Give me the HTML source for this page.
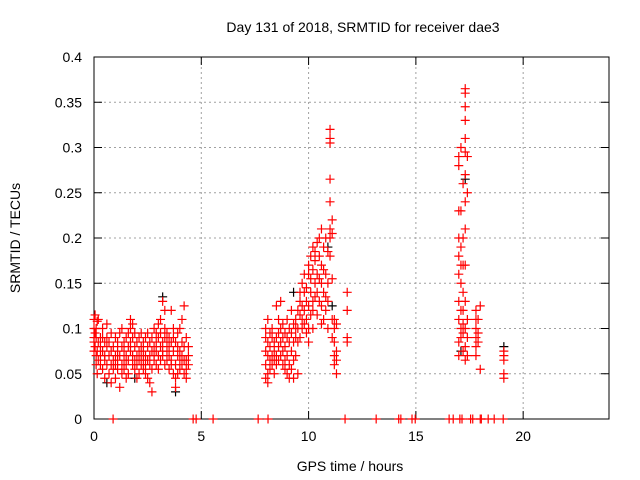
<!DOCTYPE html>
<html><head><meta charset="utf-8"><style>
html,body{margin:0;padding:0;background:#fff}
svg{display:block;font-family:"Liberation Sans",sans-serif}
</style></head><body>
<svg id="chart" width="640" height="480">
<rect width="640" height="480" fill="#fff"/>
<g id="grid"></g>
<g id="axes"></g>
<g id="black"></g>
<g id="red"></g>
<text x="363" y="32" font-size="14" text-anchor="middle">Day 131 of 2018, SRMTID for receiver dae3</text>
<text x="350" y="471" font-size="14" text-anchor="middle">GPS time / hours</text>
<text transform="translate(20,238) rotate(-90)" font-size="14" text-anchor="middle">SRMTID / TECUs</text>
</svg>
<script>
const xTicks=[0,5,10,15,20];
const yTicks=[0,0.05,0.1,0.15,0.2,0.25,0.3,0.35,0.4];
const yTickLabels=["0","0.05","0.1","0.15","0.2","0.25","0.3","0.35","0.4"];
const zeroTimes=[0.89,4.62,4.76,5.55,7.65,8.11,11.7,13.15,14.2,14.3,14.82,14.97,16.55,16.74,17.05,17.15,17.55,17.65,18.0,18.05,18.37,18.65,19.07];
const blackPoints=[[3.2,0.135],[1.9,0.045],[9.3,0.14],[10.9,0.19],[17.3,0.265],[17.1,0.075],[19.1,0.08],[0.6,0.04],[3.8,0.03],[11.1,0.125]];
const cluster1=[
[0,0.09],[0,0.1],[0,0.11],[0,0.085],[0,0.075],[0.05,0.095],[0.05,0.115],[0.05,0.08],[0.1,0.1],[0.1,0.07],[0.1,0.06],[0.1,0.09],
[0.15,0.05],[0.15,0.075],[0.15,0.108],[0.2,0.085],[0.2,0.065],[0.2,0.11],[0.3,0.09],[0.3,0.06],[0.3,0.07],[0.3,0.08],
[0.4,0.075],[0.4,0.055],[0.4,0.09],[0.4,0.1],[0.5,0.065],[0.5,0.085],[0.5,0.07],[0.5,0.045],[0.6,0.08],[0.6,0.06],[0.6,0.105],[0.6,0.09],
[0.7,0.07],[0.7,0.05],[0.7,0.085],[0.8,0.06],[0.8,0.075],[0.8,0.04],[0.8,0.095],[0.9,0.065],[0.9,0.08],[0.9,0.055],
[1.0,0.07],[1.0,0.09],[1.0,0.06],[1.0,0.045],[1.1,0.075],[1.1,0.085],[1.1,0.055],[1.1,0.065],[1.2,0.035],[1.2,0.095],[1.2,0.07],
[1.3,0.08],[1.3,0.06],[1.3,0.1],[1.3,0.05],[1.4,0.065],[1.4,0.075],[1.4,0.085],[1.4,0.055],[1.5,0.045],[1.5,0.07],[1.5,0.09],[1.5,0.06],
[1.6,0.05],[1.6,0.08],[1.6,0.095],[1.6,0.065],[1.7,0.1],[1.7,0.11],[1.7,0.075],[1.7,0.085],[1.8,0.09],[1.8,0.07],[1.8,0.06],[1.8,0.105],
[1.9,0.065],[1.9,0.08],[1.9,0.095],[1.9,0.055],[2.0,0.045],[2.0,0.07],[2.0,0.085],[2.0,0.06],[2.1,0.075],[2.1,0.09],[2.1,0.065],[2.1,0.05],
[2.2,0.08],[2.2,0.06],[2.2,0.07],[2.2,0.095],[2.3,0.055],[2.3,0.085],[2.3,0.065],[2.3,0.075],[2.4,0.05],[2.4,0.07],[2.4,0.09],[2.4,0.06],
[2.5,0.065],[2.5,0.08],[2.5,0.045],[2.5,0.095],[2.6,0.04],[2.6,0.07],[2.6,0.085],[2.6,0.06],[2.7,0.03],[2.7,0.075],[2.7,0.09],[2.7,0.055],
[2.8,0.065],[2.8,0.08],[2.8,0.1],[2.8,0.07],[2.9,0.085],[2.9,0.06],[2.9,0.075],[2.9,0.095],[3.0,0.09],[3.0,0.105],[3.0,0.07],[3.0,0.055],
[3.1,0.08],[3.1,0.095],[3.1,0.11],[3.1,0.065],[3.2,0.13],[3.2,0.085],[3.2,0.075],[3.2,0.07],[3.3,0.12],[3.3,0.09],[3.3,0.1],[3.3,0.06],
[3.4,0.075],[3.4,0.085],[3.4,0.065],[3.4,0.095],[3.5,0.055],[3.5,0.07],[3.5,0.09],[3.5,0.08],[3.6,0.12],[3.6,0.065],[3.6,0.085],[3.6,0.06],
[3.7,0.1],[3.7,0.05],[3.7,0.075],[3.7,0.09],[3.8,0.045],[3.8,0.06],[3.8,0.085],[3.8,0.035],[3.9,0.07],[3.9,0.05],[3.9,0.08],[3.9,0.095],
[4.0,0.065],[4.0,0.1],[4.0,0.055],[4.0,0.075],[4.1,0.11],[4.1,0.085],[4.1,0.06],[4.1,0.07],[4.2,0.125],[4.2,0.05],[4.2,0.08],[4.2,0.065],
[4.3,0.065],[4.3,0.09],[4.3,0.055],[4.3,0.045],[4.4,0.07],[4.4,0.06],[4.4,0.08]];
const cluster2=[
[8.0,0.09],[8.0,0.075],[8.0,0.06],[8.0,0.045],[8.0,0.1],[8.1,0.11],[8.1,0.07],[8.1,0.085],[8.1,0.05],[8.1,0.04],
[8.2,0.08],[8.2,0.065],[8.2,0.095],[8.2,0.055],[8.3,0.07],[8.3,0.09],[8.3,0.06],[8.3,0.1],[8.4,0.085],[8.4,0.075],[8.4,0.065],[8.4,0.05],
[8.5,0.09],[8.5,0.125],[8.5,0.07],[8.5,0.06],[8.6,0.11],[8.6,0.095],[8.6,0.08],[8.6,0.065],[8.7,0.1],[8.7,0.085],[8.7,0.07],[8.7,0.13],
[8.8,0.09],[8.8,0.075],[8.8,0.06],[8.8,0.105],[8.9,0.08],[8.9,0.095],[8.9,0.065],[8.9,0.055],[9.0,0.11],[9.0,0.09],[9.0,0.07],[9.0,0.05],
[9.1,0.1],[9.1,0.085],[9.1,0.06],[9.1,0.045],[9.2,0.095],[9.2,0.12],[9.2,0.075],[9.2,0.055],[9.3,0.105],[9.3,0.085],[9.3,0.065],[9.3,0.045],
[9.4,0.09],[9.4,0.11],[9.4,0.1],[9.4,0.07],[9.5,0.1],[9.5,0.12],[9.5,0.085],[9.5,0.05],[9.6,0.14],[9.6,0.13],[9.6,0.115],[9.6,0.09],
[9.7,0.15],[9.7,0.125],[9.7,0.1],[9.7,0.11],[9.8,0.16],[9.8,0.14],[9.8,0.12],[9.8,0.105],[9.9,0.145],[9.9,0.13],[9.9,0.11],[9.9,0.095],
[10.0,0.16],[10.0,0.17],[10.0,0.125],[10.0,0.1],[10.0,0.085],[10.1,0.18],[10.1,0.155],[10.1,0.14],[10.1,0.115],
[10.2,0.19],[10.2,0.165],[10.2,0.13],[10.2,0.12],[10.2,0.1],[10.3,0.185],[10.3,0.175],[10.3,0.15],[10.3,0.135],
[10.4,0.195],[10.4,0.16],[10.4,0.14],[10.4,0.115],[10.5,0.2],[10.5,0.18],[10.5,0.155],[10.5,0.13],
[10.6,0.21],[10.6,0.17],[10.6,0.15],[10.6,0.125],[10.6,0.105],[10.7,0.19],[10.7,0.165],[10.7,0.14],[10.7,0.11],
[10.8,0.2],[10.8,0.16],[10.8,0.135],[10.8,0.12],[10.9,0.185],[10.9,0.15],[10.9,0.13],[10.9,0.1],
[11.0,0.32],[11.0,0.31],[11.0,0.305],[11.0,0.265],[11.0,0.24],[11.0,0.21],[11.0,0.2],[11.0,0.18],
[11.1,0.22],[11.1,0.205],[11.1,0.155],[11.1,0.11],[11.1,0.09],[11.2,0.1],[11.2,0.085],[11.2,0.07],[11.2,0.06],[11.2,0.11],
[11.3,0.075],[11.3,0.065],[11.3,0.05],[11.3,0.105],[11.8,0.14],[11.8,0.12],[11.8,0.09],[11.8,0.085]];
const cluster3=[
[17.0,0.29],[17.0,0.28],[17.0,0.23],[17.0,0.2],[17.0,0.18],[17.0,0.16],[17.0,0.13],[17.0,0.11],[17.0,0.085],[17.0,0.07],
[17.1,0.3],[17.1,0.23],[17.1,0.19],[17.1,0.17],[17.1,0.15],[17.1,0.12],[17.1,0.1],[17.1,0.09],
[17.2,0.26],[17.2,0.2],[17.2,0.17],[17.2,0.14],[17.2,0.12],[17.2,0.105],[17.2,0.095],[17.2,0.075],
[17.3,0.365],[17.3,0.36],[17.3,0.345],[17.3,0.33],[17.3,0.31],[17.3,0.295],[17.3,0.27],[17.3,0.24],[17.3,0.21],[17.3,0.17],[17.3,0.13],[17.3,0.1],[17.3,0.08],[17.3,0.065],
[17.4,0.29],[17.4,0.25],[17.4,0.11],[17.4,0.09],[17.4,0.07],
[17.8,0.12],[17.8,0.11],[17.8,0.1],[17.8,0.09],[17.8,0.08],[17.8,0.07],[17.9,0.11],[17.9,0.095],[17.9,0.085],[18.0,0.125],[18.0,0.055],
[19.1,0.075],[19.1,0.07],[19.1,0.065],[19.1,0.05],[19.1,0.045]];

const L=94,R=609,T=57,B=419;
const xs=t=>L+(t/24)*(R-L);
const ys=v=>B-(v/0.4)*(B-T);
const NS='http://www.w3.org/2000/svg';
function mk(tag,attrs,parent){const e=document.createElementNS(NS,tag);for(const k in attrs)e.setAttribute(k,attrs[k]);parent.appendChild(e);return e;}
const grid=document.getElementById('grid'),axes=document.getElementById('axes');
yTicks.forEach((v,i)=>{
  const y=ys(v);
  if(v>0&&v<0.4){const g=mk('line',{x1:L,x2:R,y1:y,y2:y,stroke:'#a0a0a0','stroke-dasharray':'2,3','stroke-width':1},grid);
  
  }
  mk('line',{x1:L,x2:L+8,y1:y,y2:y,stroke:'#000'},axes);
  mk('line',{x1:R-8,x2:R,y1:y,y2:y,stroke:'#000'},axes);
  const t=mk('text',{x:L-12,y:y+5,'font-size':14,'text-anchor':'end'},axes);
  t.textContent=yTickLabels[i];
  
  
});
xTicks.forEach(h=>{
  const x=xs(h);
  if(h>0){const g=mk('line',{x1:x,x2:x,y1:T,y2:B,stroke:'#a0a0a0','stroke-dasharray':'2,3','stroke-width':1},grid);
  
  }
  mk('line',{x1:x,x2:x,y1:B,y2:B-8,stroke:'#000'},axes);
  mk('line',{x1:x,x2:x,y1:T,y2:T+8,stroke:'#000'},axes);
  const t=mk('text',{x:x,y:B+22,'font-size':14,'text-anchor':'middle'},axes);
  t.textContent=String(h);
  
  
});
const frame=mk('rect',{x:L,y:T,width:R-L,height:B-T,fill:'none',stroke:'#000','stroke-width':1},axes);


function plus(g,t,v,color){
  const x=xs(t),y=ys(v);
  const p=mk('path',{d:`M${x-4.5} ${y}H${x+4.5}M${x} ${y-4.5}V${y+4.5}`,stroke:color,'stroke-width':1.2,fill:'none'},g);
  
  
}
const gb=document.getElementById('black'),gr=document.getElementById('red');
blackPoints.forEach(p=>plus(gb,p[0],p[1],'#000'));
[cluster1,cluster2,cluster3].forEach(c=>c.forEach(p=>plus(gr,p[0],p[1],'#f00')));
zeroTimes.forEach(t=>plus(gr,t,0,'#f00'));
</script>
</body></html>
